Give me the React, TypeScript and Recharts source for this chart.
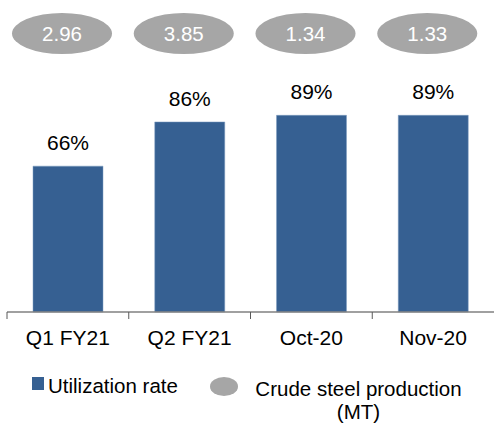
import React from 'react';
import { BarChart, Bar, XAxis, YAxis, LabelList, Legend } from 'recharts';

const categories = ['Q1 FY21', 'Q2 FY21', 'Oct-20', 'Nov-20'];
const utilization = [66, 86, 89, 89];
const production = [2.96, 3.85, 1.34, 1.33];

const data = categories.map((name, i) => ({
  name,
  utilization: utilization[i],
  production: production[i],
}));

const FONT = 'Arial, "Liberation Sans", sans-serif';
const BAR_COLOR = '#366092';
const GREY = '#A6A6A6';

const BoundaryTick = (props: any) => {
  const { x, y, payload } = props;
  const half = payload && payload.offset ? payload.offset : 60.9;
  return (
    <g>
      <line x1={x - half} x2={x - half} y1={y - 8} y2={y - 1} stroke="#595959" strokeWidth={1} />
      <text x={x} y={y + 25} textAnchor="middle" fontSize={21} fontFamily={FONT} fill="#000">
        {payload.value}
      </text>
    </g>
  );
};

const PctLabel = (props: any) => {
  const { x, y, width, value } = props;
  return (
    <text x={x + width / 2} y={y - 16} textAnchor="middle" fontSize={21} fontFamily={FONT} fill="#000">
      {value}%
    </text>
  );
};

const EllipseLabel = (props: any) => {
  const { x, width, value } = props;
  const cx = x + width / 2 - 6;
  const cy = 33.5;
  return (
    <g>
      <ellipse cx={cx} cy={cy} rx={50} ry={20.5} fill={GREY} />
      <text x={cx} y={cy + 7} textAnchor="middle" fontSize={20.5} fontFamily={FONT} fill="#fff">
        {value.toFixed(2)}
      </text>
    </g>
  );
};

const LegendContent = () => (
  <div style={{ position: 'relative', width: 494, height: 0, fontFamily: FONT, fontSize: 20.5, color: '#000' }}>
    <div style={{ position: 'absolute', left: 32, top: 377, width: 12, height: 13, background: BAR_COLOR }} />
    <div style={{ position: 'absolute', left: 48, top: 374, whiteSpace: 'nowrap', lineHeight: '23px' }}>Utilization rate</div>
    <div style={{ position: 'absolute', left: 210, top: 377, width: 28, height: 19, borderRadius: '50%', background: GREY }} />
    <div style={{ position: 'absolute', left: 252, top: 377, width: 213, textAlign: 'center', whiteSpace: 'nowrap', lineHeight: '23px' }}>
      Crude steel production
      <br />
      (MT)
    </div>
  </div>
);

export default function App() {
  return (
    <div style={{ position: 'absolute', left: 0, top: 0, width: 494, height: 425, background: '#fff' }}>
      <BarChart
        width={494}
        height={425}
        data={data}
        margin={{ top: 91, right: 0, left: 7, bottom: 73 }}
        barCategoryGap={0}
      >
        <XAxis
          dataKey="name"
          axisLine={{ stroke: '#808080', strokeWidth: 1.5 }}
          tickLine={false}
          tick={<BoundaryTick />}
          height={40}
          interval={0}
        />
        <YAxis hide domain={[0, 100]} />
        <Legend
          content={<LegendContent />}
          wrapperStyle={{ position: 'absolute', left: 0, top: 0, width: 494, height: 0 }}
        />
        <Bar
          dataKey="utilization"
          name="Utilization rate"
          fill={BAR_COLOR}
          stroke="#7f9cc0"
          strokeWidth={0.5}
          barSize={70}
          isAnimationActive={false}
        >
          <LabelList dataKey="utilization" content={<PctLabel />} />
          <LabelList dataKey="production" content={<EllipseLabel />} />
        </Bar>
      </BarChart>
    </div>
  );
}
